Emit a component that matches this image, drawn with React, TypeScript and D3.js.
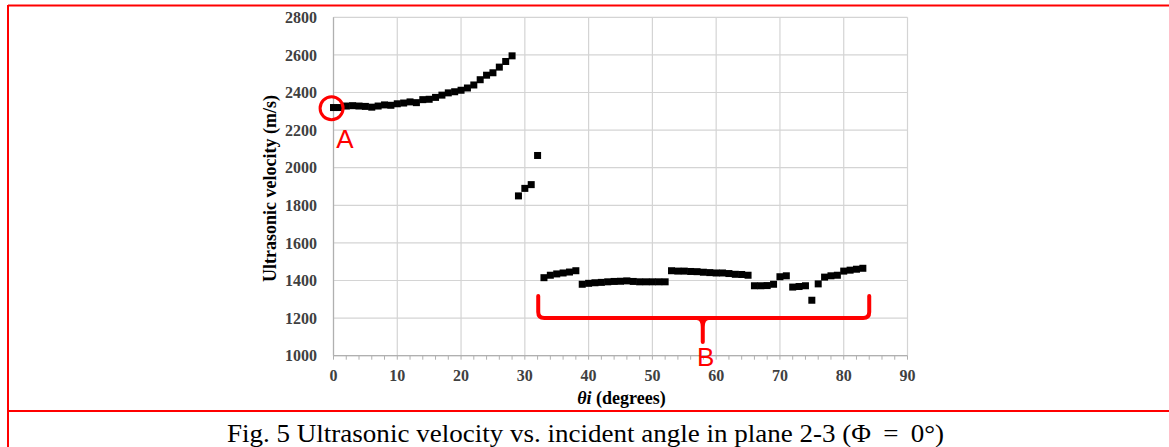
import React from "react";
import * as d3 from "d3";

const angles: number[] = [
  0, 1, 2, 3, 4, 5, 6, 7, 8, 9, 10, 11, 12, 13, 14, 15, 16, 17, 18, 19, 20,
  21, 22, 23, 24, 25, 26, 27, 28, 29, 30, 31, 32, 33, 34, 35, 36, 37, 38, 39,
  40, 41, 42, 43, 44, 45, 46, 47, 48, 49, 50, 51, 52, 53, 54, 55, 56, 57, 58,
  59, 60, 61, 62, 63, 64, 65, 66, 67, 68, 69, 70, 71, 72, 73, 74, 75, 76, 77,
  78, 79, 80, 81, 82, 83,
];
const velocities: number[] = [
  2320, 2320, 2328, 2330, 2328, 2326, 2322, 2328, 2334, 2332, 2340, 2344,
  2350, 2346, 2362, 2364, 2374, 2386, 2398, 2404, 2412, 2424, 2440, 2468,
  2492, 2505, 2535, 2565, 2595, 1850, 1890, 1910, 2065, 1415, 1428, 1435,
  1440, 1445, 1452, 1380, 1385, 1388, 1390, 1393, 1395, 1396, 1398, 1395,
  1393, 1393, 1393, 1393, 1393, 1452, 1450, 1450, 1448, 1447, 1444, 1442,
  1440, 1440, 1437, 1433, 1432, 1428, 1372, 1372, 1373, 1380, 1420, 1425,
  1365, 1368, 1372, 1295, 1382, 1418, 1425, 1428, 1450, 1455, 1460, 1465,
];
const xTicks: number[] = [0, 10, 20, 30, 40, 50, 60, 70, 80, 90];
const xMinorTicks: number[] = d3.range(0, 91, 2);
const yTicks: number[] = [1000, 1200, 1400, 1600, 1800, 2000, 2200, 2400, 2600, 2800];
const yTitle = "Ultrasonic velocity (m/s)";
const captionText = "Fig. 5 Ultrasonic velocity vs. incident angle in plane 2-3 (";
const captionMath = "Φ = 0°";

export default function App() {
  const W = 1169;
  const H = 447;
  const xs = d3.scaleLinear().domain([0, 90]).range([333.5, 907.5]);
  const ys = d3.scaleLinear().domain([1000, 2800]).range([355.7, 17.3]);
  const red = "#ff0000";
  const grid = "#d4d4d4";
  const tickColor = "#404040";
  const serif = "'Liberation Serif', 'Times New Roman', serif";
  const sans = "'Liberation Sans', Arial, sans-serif";
  const sq = 7;

  // annotation geometry (from data space)
  const bL = xs(32.1);
  const bR = xs(84.0);
  const bTop = ys(1318);
  const bH = ys(1200);
  const tipX = xs(57.9);
  const tipB = ys(1073);
  const r = 6;
  const bracePath =
    `M${bL},${bTop} L${bL},${bH - r} Q${bL},${bH} ${bL + r},${bH} ` +
    `L${bR - r},${bH} Q${bR},${bH} ${bR},${bH - r} L${bR},${bTop}`;
  const tipPath =
    `M${tipX - 6},${bH} Q${tipX},${bH} ${tipX},${bH + 9} L${tipX},${tipB} ` +
    `M${tipX + 6},${bH} Q${tipX},${bH} ${tipX},${bH + 9}`;

  return (
    <svg
      width={W}
      height={H}
      style={{ position: "absolute", left: 0, top: 0, background: "#fff" }}
    >
      <rect x={0} y={0} width={W} height={H} fill="#fff" />
      {/* red table borders */}
      <line x1={8} y1={5.5} x2={W} y2={5.5} stroke={red} strokeWidth={2} />
      <line x1={8} y1={5} x2={8} y2={H} stroke={red} strokeWidth={2} />
      <line x1={8} y1={411} x2={W} y2={411} stroke={red} strokeWidth={2} />

      {/* gridlines */}
      {yTicks.map((t) => (
        <line key={"gy" + t} x1={xs(0)} x2={xs(90)} y1={ys(t)} y2={ys(t)} stroke={grid} strokeWidth={1.2} />
      ))}
      {xTicks.map((t) => (
        <line key={"gx" + t} x1={xs(t)} x2={xs(t)} y1={ys(1000)} y2={ys(2800)} stroke={grid} strokeWidth={1.2} />
      ))}
      {/* axes */}
      <line x1={xs(0)} x2={xs(90)} y1={ys(1000)} y2={ys(1000)} stroke="#b0b0b0" strokeWidth={1.2} />
      <line x1={xs(0)} x2={xs(0)} y1={ys(1000)} y2={ys(2800)} stroke="#b0b0b0" strokeWidth={1.2} />
      {xMinorTicks.map((t) => (
        <line key={"mt" + t} x1={xs(t)} x2={xs(t)} y1={ys(1000)} y2={ys(1000) + 4} stroke="#b0b0b0" strokeWidth={1} />
      ))}

      {/* tick labels */}
      {yTicks.map((t) => (
        <text key={"yl" + t} x={317} y={ys(t)} dy="0.35em" textAnchor="end" fontFamily={serif} fontSize={16} fontWeight="bold" fill={tickColor}>
          {t}
        </text>
      ))}
      {xTicks.map((t) => (
        <text key={"xl" + t} x={xs(t)} y={381} textAnchor="middle" fontFamily={serif} fontSize={16} fontWeight="bold" fill={tickColor}>
          {t}
        </text>
      ))}

      {/* axis titles */}
      <text
        transform={`translate(276,188.5) rotate(-90)`}
        textAnchor="middle"
        fontFamily={serif}
        fontSize={18}
        fontWeight="bold"
        fill="#000"
      >
        {yTitle}
      </text>
      <text x={621.5} y={404} textAnchor="middle" fontFamily={serif} fontSize={18} fontWeight="bold" fill="#000">
        <tspan fontStyle="italic">θi</tspan>
        <tspan> (degrees)</tspan>
      </text>

      {/* data */}
      {angles.map((a, i) => (
        <rect key={"p" + i} x={xs(a) - sq / 2} y={ys(velocities[i]) - sq / 2} width={sq} height={sq} fill="#000" />
      ))}

      {/* annotations */}
      <circle cx={xs(-0.3)} cy={ys(2316)} r={11.5} fill="none" stroke={red} strokeWidth={3} />
      <text x={345} y={148} textAnchor="middle" fontFamily={sans} fontSize={26} fill={red}>
        A
      </text>
      <path d={bracePath} fill="none" stroke={red} strokeWidth={4} strokeLinecap="round" strokeLinejoin="round" />
      <path d={tipPath} fill="none" stroke={red} strokeWidth={4} strokeLinecap="round" />
      <text x={tipX + 3} y={366} textAnchor="middle" fontFamily={sans} fontSize={26} fill={red}>
        B
      </text>

      {/* caption */}
      <text x={227} y={442} textLength={717} lengthAdjust="spacingAndGlyphs" fontFamily={serif} fontSize={25} fill="#000">
        {captionText}
        <tspan>{captionMath.replace(/ /g, " \u2009")}</tspan>
        <tspan>)</tspan>
      </text>
    </svg>
  );
}
